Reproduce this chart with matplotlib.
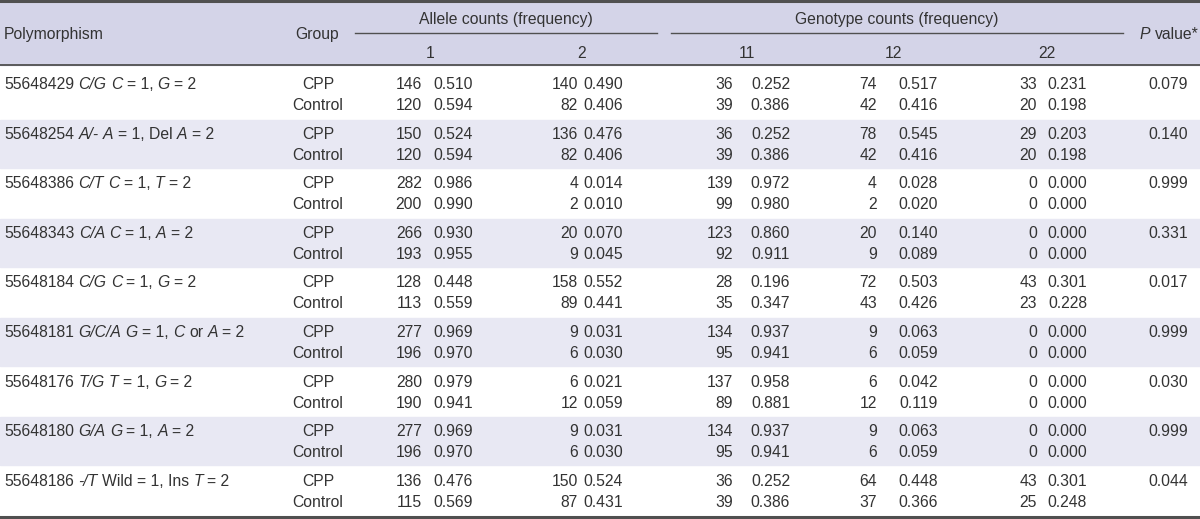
#snp_table.py
import matplotlib
matplotlib.use("Agg")
import matplotlib.pyplot as plt
from matplotlib import font_manager

# data  (|...| marks italic parts)
snps = [
    "55648429 |C/G| |C| = 1, |G| = 2",
    "55648254 |A/-| |A| = 1, Del |A| = 2",
    "55648386 |C/T| |C| = 1, |T| = 2",
    "55648343 |C/A| |C| = 1, |A| = 2",
    "55648184 |C/G| |C| = 1, |G| = 2",
    "55648181 |G/C/A| |G| = 1, |C| or |A| = 2",
    "55648176 |T/G| |T| = 1, |G| = 2",
    "55648180 |G/A| |G| = 1, |A| = 2",
    "55648186 |-/T| Wild = 1, Ins |T| = 2",
]
groups = ["CPP", "Control"]

# allele 1 / allele 2 (count, freq) -- CPP then control
cpp_a1 = [(146, .510), (150, .524), (282, .986), (266, .930), (128, .448), (277, .969), (280, .979), (277, .969), (136, .476)]
ctl_a1 = [(120, .594), (120, .594), (200, .990), (193, .955), (113, .559), (196, .970), (190, .941), (196, .970), (115, .569)]
cpp_a2 = [(140, .490), (136, .476), (4, .014), (20, .070), (158, .552), (9, .031), (6, .021), (9, .031), (150, .524)]
ctl_a2 = [(82, .406), (82, .406), (2, .010), (9, .045), (89, .441), (6, .030), (12, .059), (6, .030), (87, .431)]

# genotypes 11 / 12 / 22
cpp_g11 = [(36, .252), (36, .252), (139, .972), (123, .860), (28, .196), (134, .937), (137, .958), (134, .937), (36, .252)]
ctl_g11 = [(39, .386), (39, .386), (99, .980), (92, .911), (35, .347), (95, .941), (89, .881), (95, .941), (39, .386)]
cpp_g12 = [(74, .517), (78, .545), (4, .028), (20, .140), (72, .503), (9, .063), (6, .042), (9, .063), (64, .448)]
ctl_g12 = [(42, .416), (42, .416), (2, .020), (9, .089), (43, .426), (6, .059), (12, .119), (6, .059), (37, .366)]
cpp_g22 = [(33, .231), (29, .203), (0, .000), (0, .000), (43, .301), (0, .000), (0, .000), (0, .000), (43, .301)]
ctl_g22 = [(20, .198), (20, .198), (0, .000), (0, .000), (23, .228), (0, .000), (0, .000), (0, .000), (25, .248)]

p_values = ["0.079", "0.140", "0.999", "0.331", "0.017", "0.999", "0.030", "0.999", "0.044"]

sub_heads = ["1", "2", "11", "12", "22"]

#font
names = {f.name for f in font_manager.fontManager.ttflist}
FONT = "Liberation Sans Narrow" if "Liberation Sans Narrow" in names else "Liberation Sans"
FS = 12.5 if FONT == "Liberation Sans Narrow" else 11.3
TXT = "#333333"
LINE = "#505050"
HEAD_BG = "#d4d4e8"
STRIPE = "#e8e8f3"

W, H = 1200, 519
fig = plt.figure(figsize=(W / 100, H / 100), dpi=100)
ax = fig.add_axes([0, 0, 1, 1])
ax.set_xlim(0, W)
ax.set_ylim(H, 0)
ax.axis("off")
renderer = fig.canvas.get_renderer()


def txt(x, y, s, ha="left", italic=False, **kw):
    return ax.text(x, y, s, ha=ha, va="baseline", fontsize=FS, color=TXT,
                   family=FONT, style="italic" if italic else "normal", **kw)


def width(s, italic=False):
    t = txt(0, 0, s, italic=italic)
    w = t.get_window_extent(renderer).width
    t.remove()
    return w


SPACE = width("a a") - width("aa")


def rich(x, y, markup, ha="left"):
    # |...| toggles italic
    parts = markup.split("|")
    sizes = []
    total = 0
    for i, p in enumerate(parts):
        if not p:
            continue
        it = i % 2 == 1
        core = p.strip()
        if not core:
            lead, trail, w = len(p), 0, 0
        else:
            lead = len(p) - len(p.lstrip())
            trail = len(p) - len(p.rstrip())
            w = width(core, it)
        sizes.append((core, it, lead, trail, w))
        total += (lead + trail) * SPACE + w
    if ha == "center":
        x -= total / 2
    for core, it, lead, trail, w in sizes:
        x += lead * SPACE
        if core:
            txt(x, y, core, italic=it)
        x += w + trail * SPACE


# header
ax.axhspan(0, 65, color=HEAD_BG, zorder=0)
ax.axhline(1, color=LINE, lw=2.2)
ax.axhline(65, color=LINE, lw=1.3)
ax.axhline(517, color=LINE, lw=2.2)
ax.plot([355, 657], [33, 33], color=LINE, lw=1)
ax.plot([671, 1123], [33, 33], color=LINE, lw=1)

txt(4, 39, "Polymorphism")
txt(317, 39, "Group", ha="center")
txt(506, 24, "Allele counts (frequency)", ha="center")
txt(897, 24, "Genotype counts (frequency)", ha="center")
rich(1169, 39, "|P| value*", ha="center")
for s, x in zip(sub_heads, [430, 582, 747, 893, 1047]):
    txt(x, 58, s, ha="center")

# stripes
pitch = 49.5
for k in range(len(snps)):
    if k % 2 == 1:
        top = 120 + pitch * (k - 1)
        ax.axhspan(top, top + pitch - 1.5, color=STRIPE, zorder=0)

# columns: (count right edge, freq right edge)
cols = [(422, 473), (578, 623), (733, 790), (877, 938), (1037, 1087)]
cpp_cols = [cpp_a1, cpp_a2, cpp_g11, cpp_g12, cpp_g22]
ctl_cols = [ctl_a1, ctl_a2, ctl_g11, ctl_g12, ctl_g22]

for k, snp in enumerate(snps):
    y0 = 83 + 49.6 * k + 6
    y1 = y0 + 21
    rich(4, y0, snp)
    for y, g, data in [(y0, groups[0], cpp_cols), (y1, groups[1], ctl_cols)]:
        txt(318, y, g, ha="center")
        for (cx, fx), col in zip(cols, data):
            n, f = col[k]
            txt(cx, y, str(n), ha="right")
            txt(fx, y, f"{f:.3f}", ha="right")
    txt(1188, y0, p_values[k], ha="right")

fig.savefig("out.png", dpi=100)
